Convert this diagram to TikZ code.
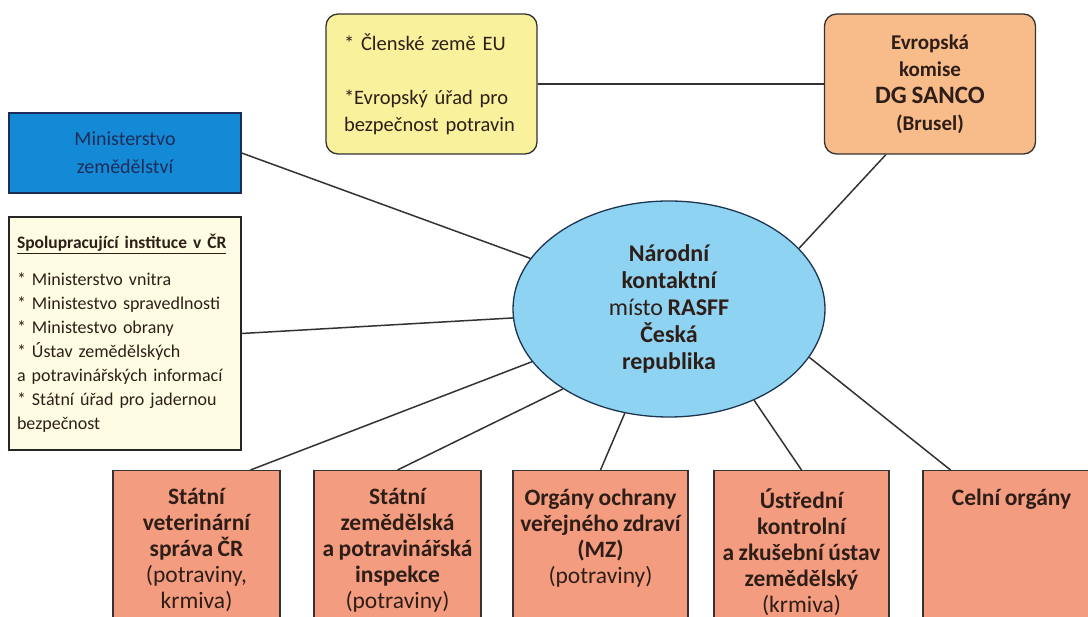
\documentclass[tikz,border=0pt]{standalone}
\usepackage{fontspec}
\setmainfont{Carlito}[WordSpace=0.85]
\usetikzlibrary{shapes.geometric}
\definecolor{euyellow}{HTML}{FAF19C}
\definecolor{komorange}{HTML}{F8BB8A}
\definecolor{mzeblue}{HTML}{1489D6}
\definecolor{spolcream}{HTML}{FEFCE2}
\definecolor{rasffblue}{HTML}{8ED3F2}
\definecolor{rasffedge}{HTML}{1E3550}
\definecolor{organsalmon}{HTML}{F49C80}
\definecolor{textbrown}{HTML}{2E1E18}
\definecolor{navytext}{HTML}{1B2D58}
\newcommand{\toptext}[2]{\parbox[t][150pt][t]{#1}{\centering\fontsize{23.5}{26}\selectfont\bfseries #2}}

\begin{document}
\begin{tikzpicture}[x=10pt,y=10pt]
\tikzstyle{every node}+=[inner sep=0pt, text=textbrown]
\tikzstyle{topbox}=[draw=black!80, line width=1.3pt, rounded corners=12pt, minimum width=211pt, minimum height=140pt]
\tikzstyle{sidebox}=[draw=black!85, line width=1.3pt, minimum width=232pt]
\tikzstyle{organ}=[draw=black!80, line width=1.3pt, fill=organsalmon, anchor=north, inner ysep=18pt]
\tikzstyle{link}=[draw=black!80, line width=1.5pt]
\useasboundingbox (0,0) rectangle (108.8,-61.7);
\clip (0,0) rectangle (108.8,-61.7);
\node [topbox, fill=euyellow, align=left, text width=175pt, font=\fontsize{20.5}{27}\selectfont] (eu) at (43.15,-8.4) {* Členské země EU\\[27pt]*Evropský úřad pro\\bezpečnost potravin};
\node [topbox, fill=komorange, align=center, font=\bfseries\fontsize{21}{27}\selectfont] (komise) at (93.0,-8.4) {Evropská\\komise\\{\fontsize{25}{27}\selectfont DG SANCO}\\(Brusel)};
\node [sidebox, fill=mzeblue, draw=navytext, minimum height=80pt, align=center, text=navytext, font=\fontsize{20}{28}\selectfont] (mze) at (12.5,-15.3) {Ministerstvo\\zemědělství};
\node [sidebox, fill=spolcream, minimum height=233pt, text width=216pt, align=left, font=\fontsize{18}{24}\selectfont] (spol) at (12.5,-33.35) {{\bfseries\fontsize{17.5}{24}\selectfont\underline{Spolupracující instituce v ČR}}\\[13pt]* Ministerstvo vnitra\\{}* Ministestvo spravedlnosti\\{}* Ministestvo obrany\\{}* Ústav zemědělských\\a potravinářských informací\\{}* Státní úřad pro jadernou\\bezpečnost};
\node [ellipse, draw=rasffedge, line width=1.3pt, fill=rasffblue, minimum width=312pt, minimum height=216pt, align=center, font=\bfseries\fontsize{24}{27}\selectfont] (rasff) at (66.9,-30.9) {Národní\\kontaktní\\{\mdseries místo} RASFF\\Česká\\republika};
\node [organ, minimum width=167pt] (svs) at (19.65,-47.0) {\toptext{165pt}{Státní\\veterinární\\správa ČR\\{\mdseries (potraviny,\\krmiva)}}};
\node [organ, minimum width=167pt] (szpi) at (39.75,-47.0) {\toptext{165pt}{Státní\\zemědělská\\a potravinářská\\inspekce\\{\mdseries (potraviny)}}};
\node [organ, minimum width=175pt] (ozv) at (60.05,-47.0) {\toptext{173pt}{Orgány ochrany\\veřejného zdraví\\(MZ)\\{\mdseries (potraviny)}}};
\node [organ, minimum width=175pt] (ukzuz) at (80.15,-47.0) {\toptext{173pt}{Ústřední\\kontrolní\\a zkušební ústav\\zemědělský\\{\mdseries (krmiva)}}};
\node [organ, minimum width=177pt] (celni) at (101.15,-47.0) {\toptext{175pt}{Celní orgány}};
\draw [link] (eu) -- (komise);
\draw [link] (komise.-122) -- (rasff.25);
\draw [link] (mze.east) -- (rasff);
\draw [link] (spol.east) -- (rasff);
\draw [link] ([xshift=54pt]svs.north) -- (rasff);
\draw [link] (szpi.north) -- (rasff.-143);
\draw [link] (ozv.north) -- (rasff.-113);
\draw [link] (ukzuz.north) -- (rasff.-47);
\draw [link] ([xshift=-61pt]celni.north) -- (rasff.-19);
\end{tikzpicture}
\end{document}
